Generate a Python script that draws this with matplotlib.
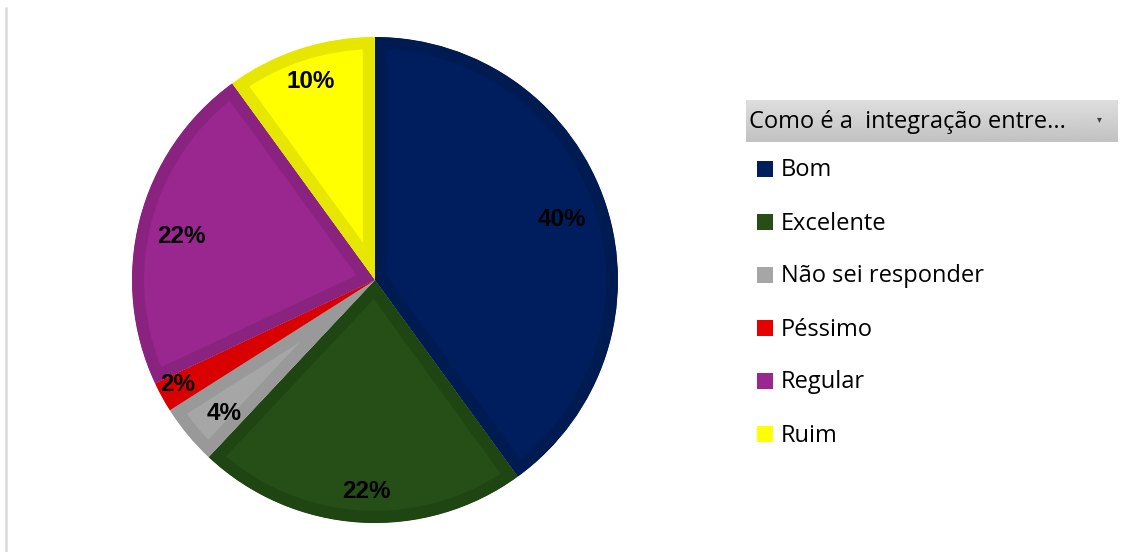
import matplotlib
matplotlib.use("Agg")
import matplotlib.pyplot as plt
import numpy as np
from matplotlib.patches import Rectangle
from matplotlib.lines import Line2D

categories = ["Bom", "Excelente", "Não sei responder", "Péssimo", "Regular", "Ruim"]
values = [40, 22, 4, 2, 22, 10]
pct_labels = ["40%", "22%", "4%", "2%", "22%", "10%"]
legend_title = "Como é a  integração entre..."

fill_colors = ["#001E5E", "#254F17", "#A6A6A6", "#E60000", "#9A278F", "#FFFF00"]
edge_colors = ["#001A52", "#1F4513", "#999999", "#D80000", "#8A2380", "#E6E600"]
label_dist = [0.81, 0.873, 0.828, 0.92, 0.818, 0.86]
label_angle_shift = [0.0, 1.4, 1.8, -1.0, 1.9, 0.0]

W, H = 1129, 552
fig = plt.figure(figsize=(W / 100, H / 100), dpi=100)
fig.patch.set_facecolor("white")

cx, cy, R = 375, 280, 243
ax = fig.add_axes([(cx - R) / W, (H - cy - R) / H, 2 * R / W, 2 * R / H])

wedges, _ = ax.pie(values, colors=fill_colors, startangle=90, counterclock=False,
                   radius=1.0, wedgeprops=dict(linewidth=0))
for w, ec in zip(wedges, edge_colors):
    w.set_edgecolor(ec)
    w.set_linewidth(17.5)
    w.set_joinstyle("miter")
    w.set_clip_on(True)
    w.set_clip_path(w)

ax.set_xlim(-1, 1)
ax.set_ylim(-1, 1)
ax.set_aspect("equal")
ax.axis("off")

total = sum(values)
cum = 0
for v, lab, d, sh in zip(values, pct_labels, label_dist, label_angle_shift):
    mid = 90 - (cum + v / 2) / total * 360 + sh
    cum += v
    t = np.deg2rad(mid)
    ax.text(d * np.cos(t), d * np.sin(t), lab, ha="center", va="center",
            fontsize=17.5, fontweight="bold", family="Liberation Sans", color="black")

# left border line
fig.add_artist(Line2D([6 / W, 6 / W], [0, 1 - 8 / H], color="#D9D9D9", linewidth=1.8,
                      transform=fig.transFigure))

# legend header with gradient
hx0, hx1, hy0, hy1 = 746, 1118, 100, 142
hax = fig.add_axes([hx0 / W, (H - hy1) / H, (hx1 - hx0) / W, (hy1 - hy0) / H])
grad = np.linspace(0.87, 0.76, 50).reshape(-1, 1)
hax.imshow(grad, cmap="gray", vmin=0, vmax=1, aspect="auto", extent=[0, 1, 0, 1])
hax.set_xlim(0, 1)
hax.set_ylim(0, 1)
hax.axis("off")
fig.text(749 / W, 1 - 122 / H, legend_title, ha="left", va="center", fontsize=17,
         family="Open Sans", color="black")
fig.text(1099 / W, 1 - 119 / H, "▾", ha="center", va="center", fontsize=7,
         family="DejaVu Sans", color="#404040")

# legend entries
y0, dy = 169, 53
for i, (cat, col) in enumerate(zip(categories, fill_colors)):
    y = y0 + i * dy
    fig.add_artist(Rectangle((757 / W, 1 - (y + 8) / H), 16 / W, 16 / H,
                             facecolor=col, edgecolor="none", transform=fig.transFigure))
    fig.text(781 / W, 1 - (y + 1.5) / H, cat, ha="left", va="center", fontsize=17,
             family="Open Sans", color="black")

fig.savefig("out.png", dpi=100)
